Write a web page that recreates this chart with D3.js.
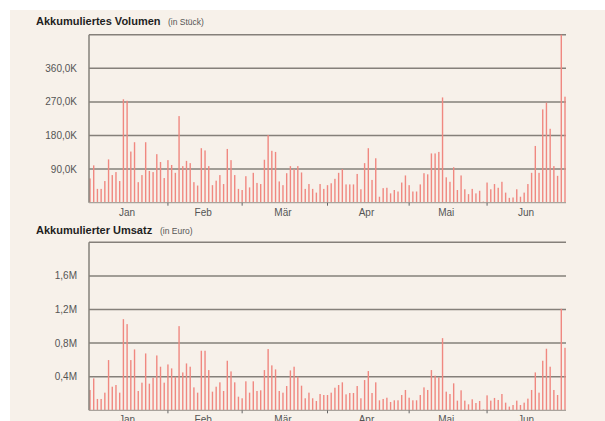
<!DOCTYPE html>
<html>
<head>
<meta charset="utf-8">
<script src="https://cdn.jsdelivr.net/npm/d3@7"></script>
<style>
  body { margin: 0; background: #fff; }
  svg { display: block; font-family: "Liberation Sans", Arial, sans-serif; }
</style>
</head>
<body>
<script>
// Volumen pro Handelstag (Stück), Jan - Jun
const volume = [
  65000, 100000, 37000, 37000, 58000, 116000, 74000, 82000, 58000, 277000,
  273000, 137000, 162000, 55000, 74000, 162000, 85000, 82000, 130000, 109000,
  66000, 114000, 101000, 80000, 232000, 98000, 112000, 106000, 55000, 46000,
  146000, 140000, 98000, 47000, 59000, 74000, 50000, 144000, 114000, 74000,
  37000, 34000, 71000, 41000, 80000, 53000, 50000, 115000, 181000, 139000,
  136000, 57000, 47000, 79000, 98000, 90000, 98000, 81000, 37000, 50000,
  37000, 27000, 50000, 37000, 47000, 52000, 64000, 80000, 90000, 49000,
  49000, 49000, 77000, 36000, 106000, 146000, 61000, 119000, 16000, 39000,
  40000, 25000, 34000, 30000, 54000, 73000, 47000, 30000, 30000, 49000,
  79000, 76000, 132000, 132000, 136000, 282000, 68000, 56000, 95000, 34000,
  73000, 36000, 23000, 37000, 25000, 32000, 3000, 54000, 36000, 50000,
  40000, 56000, 27000, 13000, 14000, 36000, 16000, 27000, 50000, 80000,
  152000, 80000, 250000, 268000, 198000, 98000, 72000, 450000, 284000
];

// Umsatz pro Handelstag (Euro)
const revenue = [
  242000, 380000, 135000, 135000, 210000, 598000, 281000, 301000, 210000, 1085000,
  1026000, 598000, 725000, 230000, 329000, 677000, 317000, 388000, 653000, 519000,
  329000, 546000, 499000, 400000, 1002000, 451000, 558000, 519000, 273000, 210000,
  709000, 709000, 479000, 222000, 281000, 333000, 230000, 590000, 463000, 333000,
  162000, 143000, 345000, 210000, 345000, 230000, 238000, 479000, 729000, 535000,
  487000, 230000, 210000, 289000, 475000, 519000, 400000, 293000, 143000, 210000,
  143000, 111000, 194000, 182000, 182000, 210000, 269000, 301000, 333000, 190000,
  206000, 206000, 289000, 143000, 360000, 467000, 206000, 333000, 119000, 135000,
  150000, 99000, 119000, 119000, 182000, 242000, 150000, 119000, 119000, 182000,
  273000, 242000, 479000, 412000, 392000, 859000, 222000, 194000, 321000, 115000,
  238000, 115000, 71000, 131000, 87000, 111000, 10000, 178000, 115000, 147000,
  123000, 194000, 91000, 44000, 63000, 115000, 63000, 91000, 139000, 242000,
  451000, 210000, 590000, 733000, 519000, 242000, 182000, 1208000, 744000
];

const monthNames = ['Jan', 'Feb', 'Mär', 'Apr', 'Mai', 'Jun'];
const monthStarts = [0, 21, 41, 64, 86, 107]; // erster Handelstag je Monat

const volumeTicks = [90000, 180000, 270000, 360000, 450000];
const revenueTicks = [400000, 800000, 1200000, 1600000, 2000000];

const width = 605;
const height = 421;

const svg = d3.select('body').append('svg')
  .attr('width', width)
  .attr('height', height);

svg.append('rect') // beige panel
  .attr('x', 10).attr('y', 10)
  .attr('width', width - 10).attr('height', height - 10)
  .attr('fill', '#f7f1ea');

const plotLeft = 89;
const plotRight = 566;

const x = d3.scalePoint()
  .domain(d3.range(volume.length))
  .range([plotLeft + 1, plotRight - 1]);

const fmtK = d => (d / 1000).toFixed(1).replace('.', ',') + 'K';
const fmtM = d => (d / 1e6).toFixed(1).replace('.', ',') + 'M';

function drawPanel(opts) {
  const y = d3.scaleLinear()
    .domain([0, opts.max])
    .range([opts.bottom, opts.top]);

  const g = svg.append('g');

  // title
  g.append('text')
    .attr('x', 36)
    .attr('y', opts.titleY)
    .style('font-size', '11px')
    .style('font-weight', 'bold')
    .attr('fill', '#1e1e1e')
    .text(opts.title);
  g.append('text')
    .attr('x', opts.subX)
    .attr('y', opts.titleY)
    .style('font-size', '8.5px')
    .attr('fill', '#555')
    .text(opts.sub);

  // gridlines
  g.selectAll('line.grid')
    .data(opts.ticks)
    .enter()
    .append('line')
    .attr('class', 'grid')
    .attr('x1', plotLeft)
    .attr('x2', plotRight)
    .attr('y1', d => y(d))
    .attr('y2', d => y(d))
    .attr('stroke', '#85807a')
    .attr('stroke-width', 1.5);

  // y labels (top line stays unlabeled)
  g.selectAll('text.ylab')
    .data(opts.ticks.slice(0, -1))
    .enter()
    .append('text')
    .attr('class', 'ylab')
    .attr('x', 77)
    .attr('y', d => y(d))
    .attr('dy', '0.35em')
    .attr('text-anchor', 'end')
    .style('font-size', '10px')
    .attr('fill', '#555')
    .text(opts.fmt);

  // bars
  g.selectAll('rect.bar')
    .data(opts.values)
    .enter()
    .append('rect')
    .attr('class', 'bar')
    .attr('x', (d, i) => x(i) - 0.7)
    .attr('width', 1.4)
    .attr('y', d => y(d))
    .attr('height', d => y(0) - y(d))
    .attr('fill', '#f08880');

  // axes lines
  g.append('line')
    .attr('x1', plotLeft).attr('x2', plotLeft)
    .attr('y1', y(opts.max)).attr('y2', y(0))
    .attr('stroke', '#85807a').attr('stroke-width', 1.5);
  g.append('line')
    .attr('x1', plotLeft).attr('x2', plotRight)
    .attr('y1', y(0)).attr('y2', y(0))
    .attr('stroke', '#a9a39c').attr('stroke-width', 1.2);

  // month ticks
  g.selectAll('line.mtick')
    .data(monthStarts.slice(1))
    .enter()
    .append('line')
    .attr('class', 'mtick')
    .attr('x1', d => x(d)).attr('x2', d => x(d))
    .attr('y1', y(0)).attr('y2', y(0) + 3)
    .attr('stroke', '#666');

  // month labels
  g.selectAll('text.mlab')
    .data(monthNames)
    .enter()
    .append('text')
    .attr('class', 'mlab')
    .attr('x', (d, i) => {
      const a = monthStarts[i];
      const b = i + 1 < monthStarts.length ? monthStarts[i + 1] - 1 : opts.values.length - 1;
      return (x(a) + x(b)) / 2;
    })
    .attr('y', y(0) + 13)
    .attr('text-anchor', 'middle')
    .style('font-size', '10px')
    .attr('fill', '#555')
    .text(d => d);
}

drawPanel({
  title: 'Akkumuliertes Volumen', sub: '(in Stück)', subX: 168, titleY: 25,
  values: volume, max: 450000, ticks: volumeTicks, fmt: fmtK,
  top: 34.7, bottom: 202.7
});

drawPanel({
  title: 'Akkumulierter Umsatz', sub: '(in Euro)', subX: 160, titleY: 234,
  values: revenue, max: 2000000, ticks: revenueTicks, fmt: fmtM,
  top: 242.3, bottom: 410.3
});
</script>
</body>
</html>
